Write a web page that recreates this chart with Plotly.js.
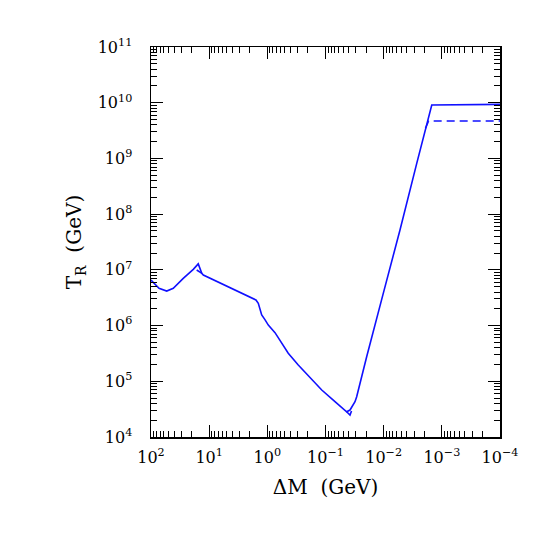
<!DOCTYPE html>
<html>
<head>
<meta charset="utf-8">
<script src="https://cdn.plot.ly/plotly-3.0.1.min.js"></script>
<style>html,body{margin:0;padding:0;background:#fff;}#chart{width:546px;height:546px;}</style>
</head>
<body>
<div id="chart"></div>
<script>
// Solid curve: Delta M (GeV) vs reheating temperature T_R (GeV)
var solidDM = [100, 72.8, 53.7, 41.4, 27.9, 18.75, 15.4, 13.4, 12.6, 1.57, 1.43, 1.34, 1.25, 1.10, 0.962, 0.738, 0.566, 0.437, 0.294, 0.198, 0.116, 0.0687, 0.0433, 0.0379, 0.0311, 0.0291, 0.0196, 0.01016, 0.00524, 0.00270, 0.00182, 0.00149, 0.0001];
var solidTR = [6.58e6, 4.67e6, 4.17e6, 4.67e6, 7.05e6, 1.02e7, 1.28e7, 8.67e6, 8.07e6, 2.88e6, 2.51e6, 1.90e6, 1.55e6, 1.28e6, 1.02e6, 7.45e5, 4.80e5, 3.18e5, 1.96e5, 1.24e5, 6.97e4, 4.30e4, 2.84e4, 3.05e4, 4.30e4, 5.28e4, 2.76e5, 3.79e6, 5.19e7, 8.17e8, 4.27e9, 9.10e9, 9.35e9];

// Dashed curve pieces (where it departs from the solid one)
var dashPeakDM = [16.4, 13.3];
var dashPeakTR = [9.93e6, 8.67e6];
var dashMinDM = [0.0433, 0.0379, 0.0357];
var dashMinTR = [2.84e4, 2.48e4, 2.93e4];
var dashTopDM = [0.00191, 0.00169, 0.0001];
var dashTopTR = [3.48e9, 4.70e9, 4.70e9];

var xTickVals = [100, 10, 1, 0.1, 0.01, 0.001, 0.0001];
var xTickText = ['10<sup>2</sup>', '10<sup>1</sup>', '10<sup>0</sup>', '10<sup>\u22121</sup>', '10<sup>\u22122</sup>', '10<sup>\u22123</sup>', '10<sup>\u22124</sup>'];
var yTickVals = [1e4, 1e5, 1e6, 1e7, 1e8, 1e9, 1e10, 1e11];
var yTickText = ['10<sup>4</sup>', '10<sup>5</sup>', '10<sup>6</sup>', '10<sup>7</sup>', '10<sup>8</sup>', '10<sup>9</sup>', '10<sup>10</sup>', '10<sup>11</sup>'];

var blue = '#1010ff';
var lineSolid = {color: blue, width: 1.6};
var lineDash = {color: blue, width: 1.6, dash: '8px,5px'};

var traces = [
  {x: solidDM, y: solidTR, type: 'scatter', mode: 'lines', line: lineSolid, hoverinfo: 'skip'},
  {x: dashPeakDM, y: dashPeakTR, type: 'scatter', mode: 'lines', line: {color: blue, width: 1.6}, hoverinfo: 'skip'},
  {x: dashMinDM, y: dashMinTR, type: 'scatter', mode: 'lines', line: {color: blue, width: 1.6}, hoverinfo: 'skip'},
  {x: dashTopDM, y: dashTopTR, type: 'scatter', mode: 'lines', line: lineDash, hoverinfo: 'skip'}
];

var fontFam = '"DejaVu Serif", "Liberation Serif", serif';
var axisCommon = {
  type: 'log',
  showgrid: false,
  zeroline: false,
  showline: true,
  linecolor: 'black',
  linewidth: 1.5,
  mirror: 'allticks',
  ticks: 'inside',
  ticklen: 12,
  tickwidth: 1.2,
  tickcolor: 'black',
  tickmode: 'array',
  tickfont: {family: fontFam, size: 16, color: 'black'},
  minor: {ticks: 'inside', ticklen: 6, tickwidth: 1, tickcolor: 'black', dtick: 'D1', showgrid: false}
};

var layout = {
  width: 546,
  height: 546,
  margin: {l: 151, r: 46, t: 47, b: 109},
  paper_bgcolor: 'white',
  plot_bgcolor: 'white',
  showlegend: false,
  font: {family: fontFam, color: 'black'},
  xaxis: Object.assign({}, axisCommon, {
    range: [2, -4],
    tickvals: xTickVals,
    ticktext: xTickText,
    ticklabelstandoff: 5,
    title: {text: '\u0394M\u00a0\u00a0(GeV)', font: {family: fontFam, size: 20, color: 'black'}, standoff: 14}
  }),
  yaxis: Object.assign({}, axisCommon, {
    range: [4, 11],
    tickvals: yTickVals,
    ticktext: yTickText,
    ticklabelstandoff: 14,
    title: {text: 'T<sub>R</sub>\u00a0\u00a0(GeV)', font: {family: fontFam, size: 20, color: 'black'}, standoff: 10}
  })
};

Plotly.newPlot('chart', traces, layout, {displayModeBar: false, staticPlot: true});
</script>
</body>
</html>
